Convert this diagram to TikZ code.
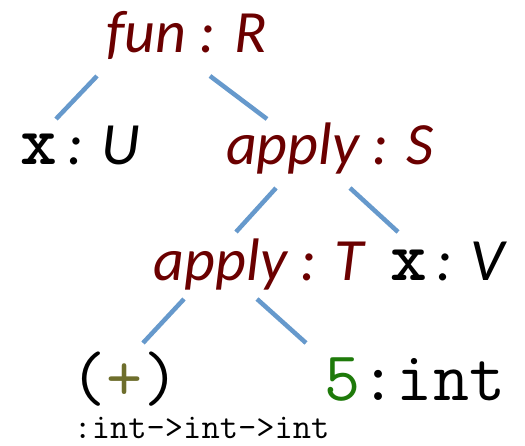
\documentclass[tikz,border=0pt]{standalone}
\usepackage{fontspec}
\setmainfont{Carlito}
\definecolor{termred}{HTML}{6B0000}
\definecolor{edgeblue}{HTML}{6699CC}
\definecolor{litgreen}{HTML}{1E7A0A}
\definecolor{opolive}{HTML}{6E6E2C}
\newcommand{\varx}{{\fontsize{70}{70}\selectfont\upshape\bfseries\ttfamily x}}
\tikzset{
  lbl/.style={inner sep=0pt, anchor=base, font=\fontsize{60}{60}\selectfont\itshape},
  redlbl/.style={lbl, text=termred},
  monolbl/.style={inner sep=0pt, anchor=base, font=\fontsize{70}{70}\selectfont\ttfamily},
  smallmono/.style={inner sep=0pt, anchor=base, font=\fontsize{35.5}{35.5}\selectfont\ttfamily},
  edge/.style={draw=edgeblue, line width=4.5pt}
}
\begin{document}
\begin{tikzpicture}[x=1pt,y=1pt]
\useasboundingbox[fill=white] (0,0) rectangle (525,446);
% nodes
\node[redlbl] (fun) at (186.5,393) {fun : R};
\node[lbl] (xu) at (80.5,281) {\varx\hspace{10pt}: U};
\node[redlbl] (apS) at (330,281) {apply : S};
\node[redlbl] (apT) at (259,165) {apply : T};
\node[lbl] (xv) at (447.5,165) {\varx\hspace{10pt}: V};
\node[monolbl] (plus) at (125,45) {(\textcolor{opolive}{+})};
\node[monolbl] (five) at (415,45) {\textcolor{litgreen}{5}:int};
\node[smallmono] (ptype) at (201.5,7) {:int->int->int};
% edge end points
\coordinate (e1a) at (97,370);  \coordinate (e1b) at (56,327);
\coordinate (e2a) at (210,370); \coordinate (e2b) at (267,327);
\coordinate (e3a) at (276,258); \coordinate (e3b) at (236,214);
\coordinate (e4a) at (350,258); \coordinate (e4b) at (398,214);
\coordinate (e5a) at (184,147); \coordinate (e5b) at (143,103);
\coordinate (e6a) at (257,147); \coordinate (e6b) at (306,103);
\draw[edge] (e1a) -- (e1b);
\draw[edge] (e2a) -- (e2b);
\draw[edge] (e3a) -- (e3b);
\draw[edge] (e4a) -- (e4b);
\draw[edge] (e5a) -- (e5b);
\draw[edge] (e6a) -- (e6b);
\end{tikzpicture}
\end{document}
